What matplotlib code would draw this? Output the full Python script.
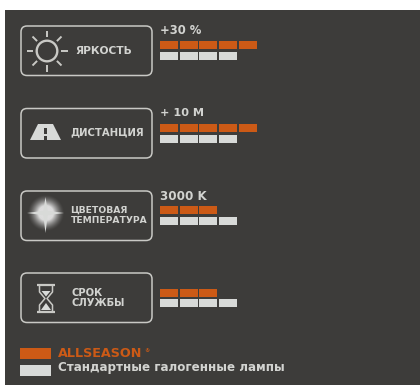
import matplotlib
matplotlib.use('Agg')
import matplotlib.pyplot as plt
from matplotlib.patches import FancyBboxPatch, Polygon, Circle, Rectangle
import numpy as np

labels = [['ЯРКОСТЬ'], ['ДИСТАНЦИЯ'], ['ЦВЕТОВАЯ', 'ТЕМПЕРАТУРА'], ['СРОК', 'СЛУЖБЫ']]
values = ['+30 %', '+ 10 M', '3000 K', '']
allseason = [5, 5, 3, 3]
standard = [4, 4, 4, 4]
legend_names = ['ALLSEASON', 'Стандартные галогенные лампы']

BG = '#3d3c3a'
ORANGE = '#cc5a16'
GREY = '#d8dad8'
TXT = '#d2d3d0'
LINE = '#c9c9c5'

box_tops = [26, 108.5, 191, 273]
orange_tops = [41, 124, 206, 289]
grey_tops = [52, 135, 217, 299]
value_y = [31, 113, 196, 0]
value_size = [8.4, 8.1, 8.6, 8]
seg_x = [160, 180, 199, 219, 239]
seg_w = 18

fig = plt.figure(figsize=(4.2, 3.85), dpi=100, facecolor='white')
ax = fig.add_axes([0, 0, 1, 1])
ax.set_xlim(0, 420)
ax.set_ylim(385, 0)
ax.axis('off')
ax.add_patch(Rectangle((5, 10), 415, 375, fc=BG, ec='none'))


def txt(x, y, s, size, color=TXT, ha='left'):
    ax.text(x, y, s, fontsize=size, color=color, ha=ha, va='center',
            family='DejaVu Sans', fontweight='bold')


def ln(xs, ys, lw=1.3, color=LINE):
    ax.plot(xs, ys, color=color, lw=lw, solid_capstyle='butt')


# frames
for top in box_tops:
    ax.add_patch(FancyBboxPatch((24, top + 3), 125, 43.5,
                                boxstyle='round,pad=3,rounding_size=6',
                                fc='none', ec=LINE, lw=1.1))

# bars
for i in range(4):
    for k in range(allseason[i]):
        ax.bar(seg_x[k], 8, width=seg_w, bottom=orange_tops[i], align='edge', color=ORANGE)
    for k in range(standard[i]):
        ax.bar(seg_x[k], 8, width=seg_w, bottom=grey_tops[i], align='edge', color=GREY)
    if values[i]:
        txt(160, value_y[i], values[i], value_size[i])

# text in the frames
txt(75, 51, labels[0][0], 7.7)
txt(70, 132, labels[1][0], 7.3)
txt(70.5, 210.5, labels[2][0], 6.7)
txt(70.5, 220.5, labels[2][1], 6.6)
txt(72, 293, labels[3][0], 7.2)
txt(72, 303, labels[3][1], 7.2)

# sun
ax.add_patch(Circle((47, 51), 10.3, fc='none', ec=LINE, lw=1.7))
for a in np.arange(0, 360, 45):
    c, s = np.cos(np.radians(a)), np.sin(np.radians(a))
    ln([47 + 14 * c, 47 + 20.5 * c], [51 + 14 * s, 51 + 20.5 * s], lw=1.4)

# road
ax.add_patch(Polygon([(30, 140), (38, 124), (53, 124), (61, 140)], fc=GREY, ec='none'))
ax.add_patch(Rectangle((44, 128), 3.2, 5.5, fc=BG, ec='none'))
ax.add_patch(Rectangle((44, 136), 3.2, 4, fc=BG, ec='none'))

# star
yy, xx = np.mgrid[-20:20:160j, -20:20:160j]
rr = np.hypot(xx, yy)
alpha = np.clip((18.5 - rr) / 11, 0, 1) ** 1.5
rgba = np.zeros((160, 160, 4))
rgba[..., :3] = 0.87
rgba[..., 3] = alpha
ax.imshow(rgba, extent=(25.5, 65.5, 233, 193), zorder=2, interpolation='bilinear')
ax.set_xlim(0, 420)
ax.set_ylim(385, 0)
ax.set_aspect('auto')
ax.add_patch(Polygon([(27, 213), (45.5, 210.5), (64, 213), (45.5, 215.5)], fc=GREY, ec='none', zorder=3))
ax.add_patch(Polygon([(45.5, 197), (48, 213), (45.5, 233), (43, 213)], fc=GREY, ec='none', zorder=3))

# hourglass
ln([37, 55], [285, 285], lw=1.6)
ln([37, 55], [312, 312], lw=1.6)
ln([39.5, 39.5, 45, 39.5, 39.5], [286, 292, 298.5, 305, 311], lw=1.1)
ln([52.5, 52.5, 47, 52.5, 52.5], [286, 292, 298.5, 305, 311], lw=1.1)
ax.add_patch(Polygon([(41.5, 291), (50.5, 291), (46, 296.5)], fc=GREY, ec='none'))
ax.add_patch(Polygon([(41, 310), (51, 310), (46, 303)], fc=GREY, ec='none'))

# legend
ax.add_patch(Rectangle((20, 348), 31, 11, fc=ORANGE, ec='none'))
ax.add_patch(Rectangle((20, 365), 31, 11, fc=GREY, ec='none'))
txt(58, 353.5, legend_names[0], 9.2, color=ORANGE)
txt(144, 350.5, '®', 3.8, color=ORANGE)
txt(58, 367.5, legend_names[1], 8.6)

fig.savefig('out.png', dpi=100, facecolor='white')
